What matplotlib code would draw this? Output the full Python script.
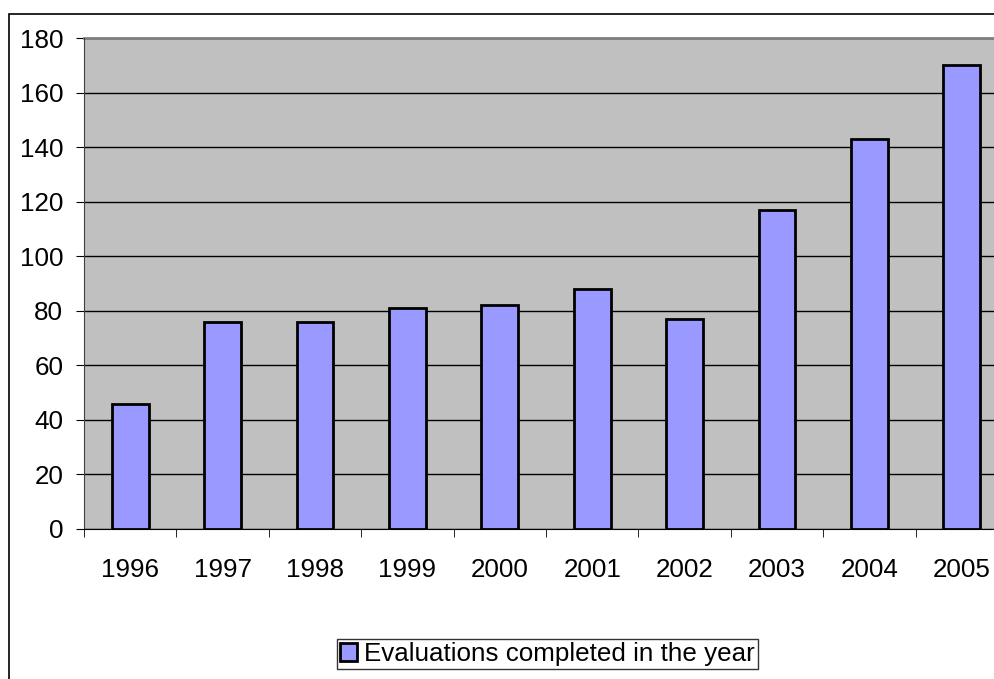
import matplotlib.pyplot as plt
from matplotlib.patches import Rectangle
import numpy as np

years = ['1996', '1997', '1998', '1999', '2000', '2001', '2002', '2003', '2004', '2005']
evaluations = [46, 76, 76, 81, 82, 88, 77, 117, 143, 170]
series_label = 'Evaluations completed in the year'

plt.rcParams['font.family'] = ['Liberation Sans', 'DejaVu Sans']
fsize = 18.7

fig = plt.figure(figsize=(9.95, 6.79), dpi=100)

# outer chart border (clipped on the right and bottom like the original)
fig.patches.append(Rectangle((9 / 995, -0.2), 1.2, 1.2 - 14 / 679,
                             transform=fig.transFigure, fill=False,
                             edgecolor='black', linewidth=1.2, clip_on=False))

ax = fig.add_axes([84 / 995, 1 - 529 / 679, 924 / 995, 491 / 679])
ax.set_facecolor('#C0C0C0')

x = np.arange(len(years))
bars = ax.bar(x, evaluations, width=0.4, color='#9999FF', edgecolor='black',
              linewidth=2, zorder=3, label=series_label)

ax.set_xlim(-0.5, len(years) - 0.5)
ax.set_ylim(0, 180)
ax.set_yticks(range(0, 181, 20))
ax.yaxis.grid(True, color='black', linewidth=1, zorder=1)
ax.set_axisbelow(True)

ax.set_xticks(x)
ax.set_xticklabels(years, fontsize=fsize)
ax.tick_params(axis='x', which='major', length=0, pad=21)
ax.set_xticks(np.arange(len(years)) - 0.5, minor=True)
ax.tick_params(axis='x', which='minor', length=6, color='black')
ax.tick_params(axis='y', labelsize=fsize, length=6, pad=9)

for side in ['top', 'right']:
    ax.spines[side].set_visible(False)
ax.spines['left'].set_color('#404040')
ax.spines['bottom'].set_color('black')
ax.axhline(180, color='#808080', linewidth=2, zorder=2, clip_on=False)

leg = fig.legend(handles=[bars], labels=[series_label], loc='center',
                 bbox_to_anchor=(547.5 / 995, 1 - 654 / 679), fontsize=fsize,
                 frameon=True, fancybox=False, edgecolor='black',
                 handlelength=0.65, handleheight=0.65, handletextpad=0.25,
                 borderpad=0.12, borderaxespad=0)
leg.get_frame().set_linewidth(1)

fig.savefig('out.png', dpi=100)
